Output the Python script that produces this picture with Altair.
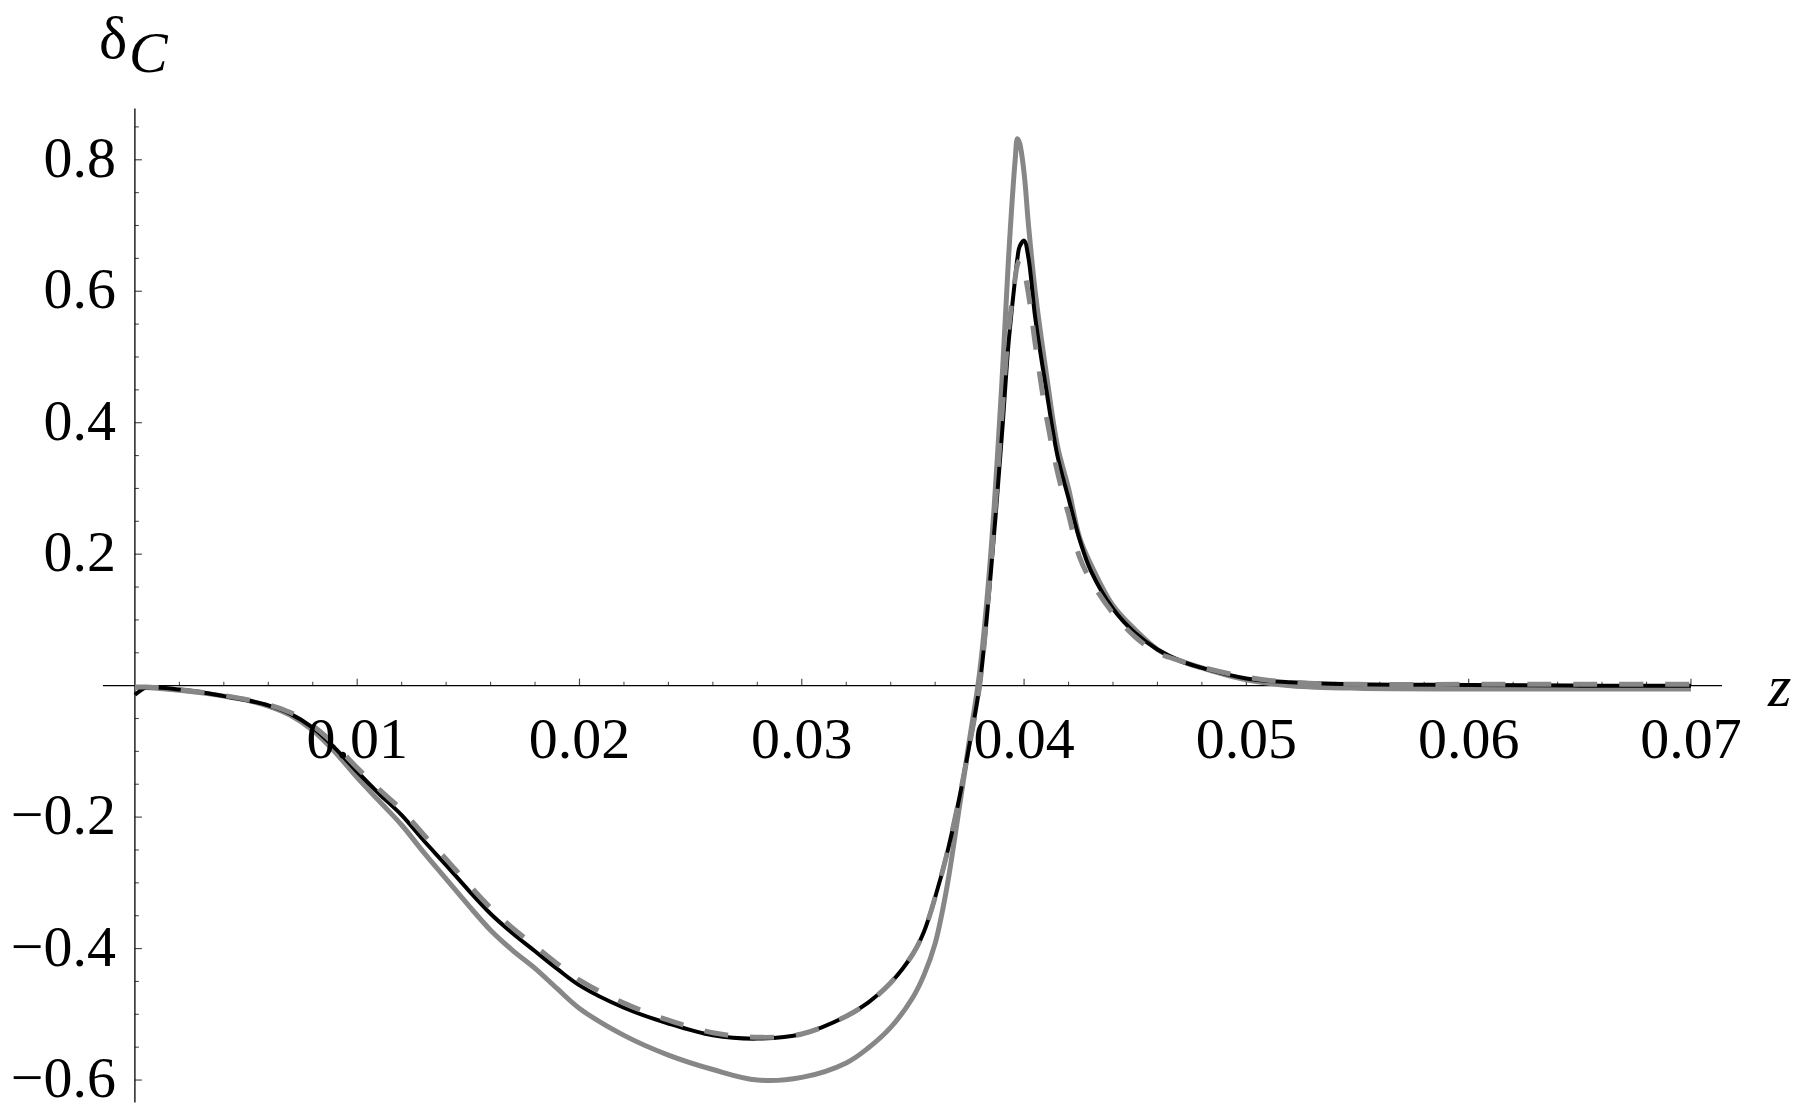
import altair as alt
import pandas as pd

# ---- data ----
z_vals = [0.0000, 0.0005, 0.0010, 0.0020, 0.0030, 0.0040, 0.0050, 0.0060, 0.0070, 0.0080,
          0.0090, 0.0100, 0.0110, 0.0120, 0.0130, 0.0140, 0.0150, 0.0160, 0.0170, 0.0180,
          0.0190, 0.0200, 0.0220, 0.0240, 0.0260, 0.0280, 0.0300, 0.0320, 0.0330, 0.0340,
          0.0350, 0.0355, 0.0360, 0.0365, 0.0370, 0.0375, 0.0380, 0.0385, 0.0390, 0.0393,
          0.0396, 0.0397, 0.0398, 0.0400, 0.0402, 0.0405, 0.0410, 0.0415, 0.0420, 0.0425,
          0.0430, 0.0440, 0.0450, 0.0460, 0.0470, 0.0480, 0.0500, 0.0520, 0.0550, 0.0600,
          0.0650, 0.0700]

black_vals = [-0.014, -0.003, -0.003, -0.006, -0.010, -0.016, -0.022, -0.030, -0.043, -0.064,
              -0.095, -0.131, -0.165, -0.197, -0.236, -0.273, -0.311, -0.347, -0.377, -0.404,
              -0.431, -0.456, -0.490, -0.514, -0.532, -0.537, -0.530, -0.503, -0.482, -0.452,
              -0.408, -0.374, -0.322, -0.260, -0.185, -0.098, 0.000, 0.170, 0.380, 0.520,
              0.620, 0.650, 0.668, 0.677, 0.650, 0.560, 0.450, 0.350, 0.285, 0.222,
              0.175, 0.117, 0.080, 0.055, 0.038, 0.027, 0.011, 0.005, 0.002, 0.001,
              0.000, 0.000]

dashed_vals = [-0.002, -0.002, -0.003, -0.006, -0.010, -0.015, -0.021, -0.029, -0.041, -0.061,
               -0.090, -0.125, -0.158, -0.189, -0.227, -0.264, -0.302, -0.338, -0.369, -0.396,
               -0.423, -0.448, -0.483, -0.509, -0.528, -0.535, -0.530, -0.503, -0.482, -0.452,
               -0.408, -0.374, -0.322, -0.260, -0.185, -0.098, 0.000, 0.180, 0.410, 0.540,
               0.620, 0.640, 0.647, 0.630, 0.595, 0.520, 0.410, 0.325, 0.260, 0.195,
               0.160, 0.110, 0.074, 0.050, 0.038, 0.028, 0.013, 0.005, 0.002, 0.002,
               0.002, 0.002]

gray_vals = [-0.003, -0.003, -0.004, -0.007, -0.011, -0.016, -0.022, -0.031, -0.045, -0.068,
             -0.101, -0.140, -0.176, -0.212, -0.254, -0.294, -0.334, -0.372, -0.403, -0.430,
             -0.461, -0.491, -0.532, -0.562, -0.584, -0.600, -0.596, -0.574, -0.551, -0.520,
             -0.474, -0.440, -0.392, -0.312, -0.205, -0.092, 0.020, 0.200, 0.460, 0.650,
             0.800, 0.832, 0.825, 0.780, 0.700, 0.600, 0.475, 0.365, 0.300, 0.225,
             0.185, 0.122, 0.085, 0.055, 0.038, 0.027, 0.009, 0.000, -0.004, -0.005,
             -0.005, -0.005]

x_major = [0.01, 0.02, 0.03, 0.04, 0.05, 0.06, 0.07]
x_labels = ["0.01", "0.02", "0.03", "0.04", "0.05", "0.06", "0.07"]
y_major = [-0.6, -0.4, -0.2, 0.2, 0.4, 0.6, 0.8]
y_labels = ["\u22120.6", "\u22120.4", "\u22120.2", "0.2", "0.4", "0.6", "0.8"]
x_minor = [round(i * 0.002, 3) for i in range(1, 36) if i % 5]
y_minor = [round(i * 0.05, 2) for i in range(-12, 18) if i % 4 and i != 0]

x_dom = [-0.00144, 0.0714]
y_dom = [-0.634, 0.878]

FONT = "Liberation Serif"
GRAY = "#878787"

xs = alt.Scale(domain=x_dom, nice=False, zero=False)
ys = alt.Scale(domain=y_dom, nice=False, zero=False)

def X(f):
    return alt.X(f, type="quantitative", scale=xs, axis=None)

def Y(f):
    return alt.Y(f, type="quantitative", scale=ys, axis=None)

curves = pd.DataFrame({"z": z_vals, "black": black_vals, "dashed": dashed_vals, "gray": gray_vals})

# axes
xaxis = alt.Chart(pd.DataFrame({"a": [x_dom[0]], "b": [x_dom[1]], "y": [0.0]})).mark_rule(
    color="black", strokeWidth=1.3).encode(x=X("a"), x2="b", y=Y("y"))
yaxis = alt.Chart(pd.DataFrame({"x": [0.0], "a": [y_dom[0]], "b": [y_dom[1]]})).mark_rule(
    color="black", strokeWidth=1.3).encode(x=X("x"), y=Y("a"), y2="b")

xt_major = alt.Chart(pd.DataFrame({"x": x_major, "y": [0.0] * len(x_major)})).mark_tick(
    orient="vertical", size=7, thickness=1.2, color="black", yOffset=-3.5).encode(x=X("x"), y=Y("y"))
xt_minor = alt.Chart(pd.DataFrame({"x": x_minor, "y": [0.0] * len(x_minor)})).mark_tick(
    orient="vertical", size=4, thickness=1.1, color="black", yOffset=-2).encode(x=X("x"), y=Y("y"))
yt_major = alt.Chart(pd.DataFrame({"y": y_major, "x": [0.0] * len(y_major)})).mark_tick(
    orient="horizontal", size=7, thickness=1.2, color="black", xOffset=3.5).encode(x=X("x"), y=Y("y"))
yt_minor = alt.Chart(pd.DataFrame({"y": y_minor, "x": [0.0] * len(y_minor)})).mark_tick(
    orient="horizontal", size=4, thickness=1.1, color="black", xOffset=2).encode(x=X("x"), y=Y("y"))

xlab = alt.Chart(pd.DataFrame({"x": x_major, "y": [0.0] * len(x_major), "t": x_labels})).mark_text(
    font=FONT, fontSize=58, align="center", baseline="alphabetic", dy=72, color="black").encode(
    x=X("x"), y=Y("y"), text="t:N")
ylab = alt.Chart(pd.DataFrame({"y": y_major, "x": [0.0] * len(y_major), "t": y_labels})).mark_text(
    font=FONT, fontSize=58, align="right", baseline="middle", dx=-19, color="black").encode(
    x=X("x"), y=Y("y"), text="t:N")

ztitle = alt.Chart(pd.DataFrame({"x": [x_dom[1]], "y": [0.0], "t": ["z"]})).mark_text(
    font=FONT, fontSize=60, fontStyle="italic", align="left", baseline="alphabetic",
    dx=46, dy=20, color="black").encode(x=X("x"), y=Y("y"), text="t:N")
dtitle = alt.Chart(pd.DataFrame({"x": [0.0], "y": [y_dom[1]], "t": ["\u03b4"]})).mark_text(
    font=FONT, fontSize=60, align="left", baseline="alphabetic",
    dx=-36, dy=-51, color="black").encode(x=X("x"), y=Y("y"), text="t:N")
ctitle = alt.Chart(pd.DataFrame({"x": [0.0], "y": [y_dom[1]], "t": ["C"]})).mark_text(
    font=FONT, fontSize=58, fontStyle="italic", align="left", baseline="alphabetic",
    dx=-6, dy=-37, color="black").encode(x=X("x"), y=Y("y"), text="t:N")

base = alt.Chart(curves)
gray_line = base.mark_line(color=GRAY, strokeWidth=5, interpolate="catmull-rom").encode(x=X("z"), y=Y("gray"))
black_line = base.mark_line(color="black", strokeWidth=4, interpolate="catmull-rom").encode(x=X("z"), y=Y("black"))
dashed_line = base.mark_line(color=GRAY, strokeWidth=5, strokeDash=[24, 22],
                             interpolate="catmull-rom").encode(x=X("z"), y=Y("dashed"))

chart = alt.layer(
    xaxis, yaxis, xt_minor, xt_major, yt_minor, yt_major,
    gray_line, black_line, dashed_line,
    xlab, ylab, ztitle, dtitle, ctitle,
).properties(
    width=1621, height=995,
    background="white",
    autosize=alt.AutoSizeParams(type="none"),
    padding={"left": 95, "top": 100, "right": 70, "bottom": 0},
).configure_view(stroke=None)

chart.save("out.html", embed_options={"renderer": "svg", "actions": False})
